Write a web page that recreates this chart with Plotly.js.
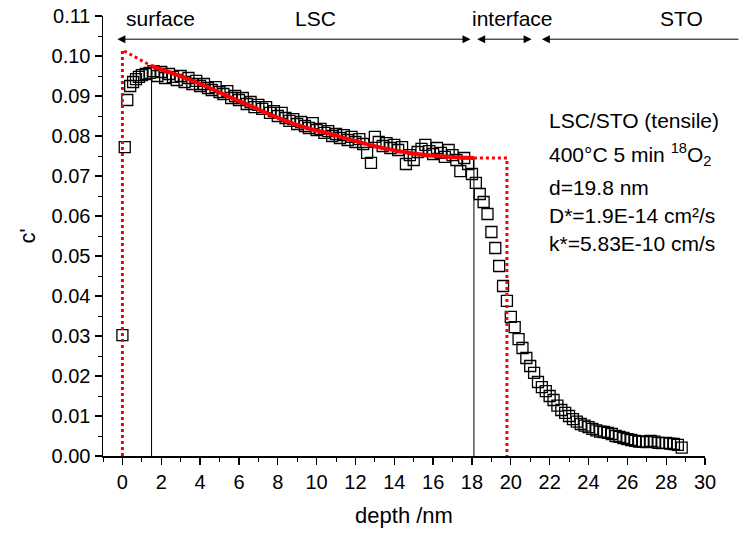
<!DOCTYPE html>
<html>
<head>
<meta charset="utf-8">
<script src="https://cdn.plot.ly/plotly-3.0.1.min.js"></script>
<style>html,body{margin:0;padding:0;background:#fff;}#chart{width:740px;height:536px;}</style>
</head>
<body>
<div id="chart"></div>
<script>
// measured profile: depth (nm) and normalised isotope fraction c'
const depth = [0, 0.12, 0.25, 0.4, 0.55, 0.7, 0.85, 1.0,
  1.2, 1.4, 1.6, 1.8, 2.0, 2.2, 2.4, 2.6, 2.8, 3.0, 3.2, 3.4, 3.6, 3.8, 4.0, 4.2, 4.4, 4.6, 4.8, 5.0,
  5.2, 5.4, 5.6, 5.8, 6.0, 6.2, 6.4, 6.6, 6.8, 7.0, 7.2, 7.4, 7.6, 7.8, 8.0, 8.2, 8.4, 8.6, 8.8, 9.0,
  9.2, 9.4, 9.6, 9.8, 10.0, 10.2, 10.4, 10.6, 10.8, 11.0, 11.2, 11.4, 11.6, 11.8, 12.0, 12.2, 12.4, 12.6, 12.8, 13.0,
  13.2, 13.4, 13.6, 13.8, 14.0, 14.2, 14.4, 14.6, 14.8, 15.0, 15.2, 15.4, 15.6, 15.8, 16.0, 16.2, 16.4, 16.6, 16.8, 17.0,
  17.2, 17.4, 17.6, 17.8, 18.0, 18.2, 18.4, 18.6, 18.8, 19.0, 19.2, 19.4, 19.6, 19.8, 20.0, 20.2, 20.4, 20.6, 20.8, 21.0,
  21.2, 21.4, 21.6, 21.8, 22.0, 22.2, 22.4, 22.6, 22.8, 23.0, 23.2, 23.4, 23.6, 23.8, 24.0, 24.2, 24.4, 24.6, 24.8, 25.0,
  25.2, 25.4, 25.6, 25.8, 26.0, 26.2, 26.4, 26.6, 26.8, 27.0, 27.2, 27.4, 27.6, 27.8, 28.0, 28.2, 28.4, 28.6, 28.8];
const cMeasured = [0.0302, 0.0772, 0.0890, 0.0925, 0.0935, 0.0942, 0.0948, 0.0952,
  0.0955, 0.0958, 0.0962, 0.0950, 0.0960, 0.0945, 0.0955, 0.0948, 0.0940, 0.0950, 0.0935, 0.0945, 0.0930, 0.0938, 0.0925, 0.0930, 0.0920, 0.0915, 0.0922, 0.0910,
  0.0905, 0.0912, 0.0895, 0.0900, 0.0890, 0.0895, 0.0880, 0.0885, 0.0872, 0.0878, 0.0868, 0.0872, 0.0858, 0.0862, 0.0850, 0.0858, 0.0845, 0.0838, 0.0842, 0.0830,
  0.0835, 0.0825, 0.0820, 0.0832, 0.0815, 0.0818, 0.0808, 0.0812, 0.0800, 0.0805, 0.0795, 0.0802, 0.0790, 0.0798, 0.0785, 0.0792, 0.0780, 0.0758, 0.0733, 0.0798,
  0.0785, 0.0775, 0.0782, 0.0770, 0.0778, 0.0765, 0.0772, 0.0730, 0.0752, 0.0740, 0.0760, 0.0768, 0.0778, 0.0762, 0.0755, 0.0770, 0.0758, 0.0748, 0.0765, 0.0752,
  0.0740, 0.0712, 0.0745, 0.0730, 0.0705, 0.0683, 0.0655, 0.0635, 0.0605, 0.0560, 0.0520, 0.0475, 0.0425, 0.0388, 0.0348, 0.0322, 0.0292, 0.0270, 0.0245, 0.0225,
  0.0208, 0.0185, 0.0172, 0.0162, 0.0150, 0.0140, 0.0126, 0.0115, 0.0108, 0.0100, 0.0092, 0.0086, 0.0080, 0.0076, 0.0072, 0.0068, 0.0064, 0.0061, 0.0060, 0.0058,
  0.0055, 0.0050, 0.0048, 0.0045, 0.0042, 0.0040, 0.0038, 0.0036, 0.0036, 0.0035, 0.0038, 0.0036, 0.0033, 0.0032, 0.0033, 0.0031, 0.0030, 0.0028, 0.0021];

// fitted diffusion profile inside the LSC layer
const fitDepth = [1.5, 2.5, 3.5, 4.5, 5.5, 6.5, 7.5, 8.5, 9.5, 10.5, 11.5, 12.5, 13.5, 14.5, 15.5, 16.5, 17.3, 18.1];
const fitC = [0.0975, 0.0958, 0.0940, 0.0920, 0.0898, 0.0877, 0.0856, 0.0836, 0.0820, 0.0808, 0.0794, 0.0781, 0.0769, 0.0760, 0.0753, 0.0749, 0.0746, 0.0745];
// dotted extrapolations of the fit (surface side, interface side)
const surfDepth = [0, 0, 1.5];
const surfC = [0, 0.1015, 0.0975];
const ifDepth = [18.1, 19.8, 19.8];
const ifC = [0.0745, 0.0745, 0];

// region boundaries (vertical guide lines) and their tops
const guideDepth = [1.5, 18.1];
const guideTop = [0.0975, 0.0745];

// top region labels
const regionLabels = ['surface', 'LSC', 'interface', 'STO'];
const regionLabelX = [1.95, 9.93, 20.1, 28.8];
// arrow segments [start, end] and whether the right end has a head
const arrowSegs = [[-0.26, 18.0, true], [18.27, 21.15, true], [21.6, 31.8, false]];
const arrowY = 0.1042;

const infoLines = ['LSC/STO (tensile)', '400°C 5 min <sup>18</sup>O<sub>2</sub>', 'd=19.8 nm', 'D*=1.9E-14 cm²/s', 'k*=5.83E-10 cm/s'];
const infoY = [0.0840, 0.0754, 0.0672, 0.0602, 0.0532];

const xTicks = [0, 2, 4, 6, 8, 10, 12, 14, 16, 18, 20, 22, 24, 26, 28, 30];
const yTicks = [0, 0.01, 0.02, 0.03, 0.04, 0.05, 0.06, 0.07, 0.08, 0.09, 0.10, 0.11];

const FONT = 'Liberation Sans, Arial, sans-serif';

const traces = [
  {x: depth, y: cMeasured, type: 'scatter', mode: 'markers', cliponaxis: false,
   marker: {symbol: 'square-open', size: 11, color: '#000', line: {width: 1.3, color: '#000'}}},
  {x: surfDepth, y: surfC, type: 'scatter', mode: 'lines', line: {color: '#ff0000', width: 3, dash: 'dot'}},
  {x: fitDepth, y: fitC, type: 'scatter', mode: 'lines', line: {color: '#ff0000', width: 4, shape: 'spline'}},
  {x: ifDepth, y: ifC, type: 'scatter', mode: 'lines', line: {color: '#ff0000', width: 3, dash: 'dot'}}
];

const shapes = guideDepth.map((g, i) => ({type: 'line', xref: 'x', yref: 'y', x0: g, x1: g, y0: 0, y1: guideTop[i],
  line: {color: '#000', width: 1}, layer: 'below'}));

const annotations = [];
regionLabels.forEach((t, i) => annotations.push({x: regionLabelX[i], y: 0.1094, xref: 'x', yref: 'y', text: t,
  showarrow: false, font: {family: FONT, size: 21, color: '#000'}, xanchor: 'center', yanchor: 'middle'}));
arrowSegs.forEach(s => {
  annotations.push({x: s[0], y: arrowY, ax: s[1], ay: arrowY, xref: 'x', yref: 'y', axref: 'x', ayref: 'y',
    text: '', showarrow: true, arrowhead: 2, arrowsize: 1.6, arrowwidth: 1, arrowcolor: '#000', standoff: 0, startstandoff: 0,
    arrowside: s[2] ? 'end+start' : 'end'});
});
infoLines.forEach((t, i) => annotations.push({x: 21.87, y: infoY[i], xref: 'x', yref: 'y', text: t, showarrow: false,
  xanchor: 'left', yanchor: 'middle', font: {family: FONT, size: 21, color: '#000'}}));

const layout = {
  width: 740, height: 536,
  margin: {l: 103, r: 35, t: 16, b: 80, pad: 0},
  paper_bgcolor: '#fff', plot_bgcolor: '#fff',
  showlegend: false,
  font: {family: FONT, size: 20, color: '#000'},
  xaxis: {range: [-1, 30], tickvals: xTicks, ticktext: xTicks.map(String), ticks: 'outside', ticklen: 7, tickwidth: 1.3,
    tickcolor: '#000', showline: true, linecolor: '#000', linewidth: 1.5, showgrid: false, zeroline: false,
    minor: {dtick: 1, tick0: 1, ticks: 'outside', ticklen: 4, tickwidth: 1, tickcolor: '#000', showgrid: false},
    tickfont: {family: FONT, size: 20}, title: {text: 'depth /nm', font: {family: FONT, size: 22}, standoff: 16}},
  yaxis: {range: [0, 0.11], tickvals: yTicks, ticktext: yTicks.map(v => v.toFixed(2)), ticks: 'outside', ticklen: 7, tickwidth: 1.3,
    tickcolor: '#000', showline: true, linecolor: '#000', linewidth: 1.5, showgrid: false, zeroline: false,
    minor: {dtick: 0.005, tick0: 0.005, ticks: 'outside', ticklen: 4, tickwidth: 1, tickcolor: '#000', showgrid: false},
    tickfont: {family: FONT, size: 20}, title: {text: "c'", font: {family: FONT, size: 22}, standoff: 10}},
  shapes: shapes,
  annotations: annotations
};

Plotly.newPlot('chart', traces, layout, {displayModeBar: false, staticPlot: true});
</script>
</body>
</html>
